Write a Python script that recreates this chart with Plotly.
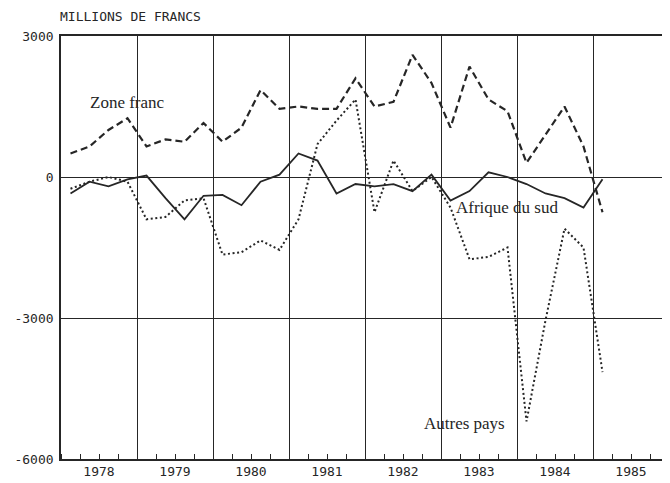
import plotly.graph_objects as go

# Quarterly data, 1978 T1 .. 1985 T1 (millions de francs)
years = [1978]*4 + [1979]*4 + [1980]*4 + [1981]*4 + [1982]*4 + [1983]*4 + [1984]*4 + [1985]
quarters = [1, 2, 3, 4]*7 + [1]
zone_franc = [500, 650, 1000, 1250, 650, 800, 750, 1150, 750, 1050, 1850, 1450, 1500, 1450, 1450,
              2100, 1500, 1600, 2600, 2000, 1050, 2350, 1650, 1400, 300, 900, 1500, 650, -750]
afrique_du_sud = [-350, -100, -200, -50, 30, -450, -900, -400, -380, -600, -100, 50, 500, 350, -350,
                  -150, -200, -150, -300, 50, -500, -300, 100, 0, -150, -350, -450, -650, -50]
autres_pays = [-250, -100, 0, -100, -900, -850, -500, -450, -1650, -1600, -1350, -1550, -900, 700, 1200,
               1650, -750, 350, -300, 0, -650, -1750, -1700, -1500, -5200, -3050, -1100, -1500, -4150]

year_labels = ["1978", "1979", "1980", "1981", "1982", "1983", "1984", "1985"]
y_ticks = [-6000, -3000, 0, 3000]
y_ticktext = ["-6000", "-3000", "0", "3000"]

# position of each quarter at its middle on a year axis
xpos = [y + (q - 0.5) / 4 for y, q in zip(years, quarters)]
label_years = [int(s) for s in year_labels]
year_bounds = label_years[1:]
year_centers = [y + 0.5 for y in label_years]

ink = "#262626"
mono = "DejaVu Sans Mono"
serif = "Liberation Serif"

fig = go.Figure()
fig.add_trace(go.Scatter(x=xpos, y=zone_franc, mode="lines", name="Zone franc",
                         line=dict(color=ink, width=2.2, dash="7px,4px")))
fig.add_trace(go.Scatter(x=xpos, y=autres_pays, mode="lines", name="Autres pays",
                         line=dict(color=ink, width=2, dash="2px,2.6px")))
fig.add_trace(go.Scatter(x=xpos, y=afrique_du_sud, mode="lines", name="Afrique du sud",
                         line=dict(color=ink, width=1.8)))
# helper trace for the label axis
fig.add_trace(go.Scatter(x=[None], y=[None], xaxis="x2", showlegend=False, hoverinfo="skip"))

fig.update_layout(
    width=662, height=475,
    margin=dict(l=53, r=1, t=28, b=24, autoexpand=False),
    paper_bgcolor="white", plot_bgcolor="white",
    showlegend=False,
    font=dict(family=mono, size=13, color=ink),
    xaxis=dict(range=[1978, 1986], tickmode="array", tickvals=year_bounds,
               showticklabels=False, ticks="", showgrid=True, gridcolor=ink, gridwidth=1.4,
               zeroline=False, showline=True, linecolor=ink, linewidth=1.6, mirror=True,
               minor=dict(dtick=0.25, tick0=1978, ticks="inside", ticklen=5,
                          tickcolor=ink, tickwidth=1.2, showgrid=False)),
    xaxis2=dict(range=[1978, 1986], overlaying="x", side="bottom", anchor="y",
                tickmode="array", tickvals=year_centers, ticktext=year_labels,
                ticks="", showgrid=False, zeroline=False, showline=False,
                ticklabelstandoff=3,
                tickfont=dict(family=mono, size=13, color=ink)),
    yaxis=dict(range=[-6000, 3000], tickmode="array", tickvals=y_ticks, ticktext=y_ticktext,
               showgrid=True, gridcolor=ink, gridwidth=1.4, zeroline=False,
               showline=True, linecolor=ink, linewidth=1.6, mirror=True, ticks="",
               ticklabelstandoff=3, tickfont=dict(family=mono, size=13, color=ink)),
    annotations=[
        dict(text="MILLIONS DE FRANCS", xref="paper", yref="paper", x=0, y=1, xshift=-3, yshift=10,
             xanchor="left", yanchor="bottom", showarrow=False,
             font=dict(family=mono, size=13, color=ink)),
        dict(text="Zone franc", xref="x", yref="y", x=1978.35, y=1580, xanchor="left",
             yanchor="middle", showarrow=False, font=dict(family=serif, size=17, color=ink)),
        dict(text="Afrique du sud", xref="x", yref="y", x=1983.17, y=-650, xanchor="left",
             yanchor="middle", showarrow=False, font=dict(family=serif, size=17, color=ink)),
        dict(text="Autres pays", xref="x", yref="y", x=1982.75, y=-5240, xanchor="left",
             yanchor="middle", showarrow=False, font=dict(family=serif, size=17, color=ink)),
    ],
)

fig.write_html("out.html")
